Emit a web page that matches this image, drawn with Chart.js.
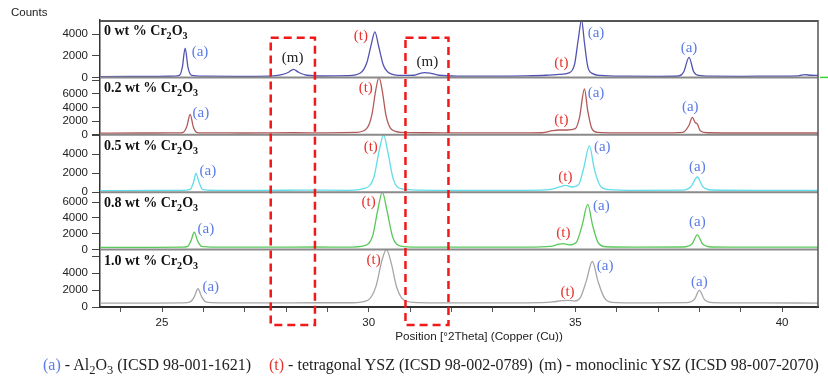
<!DOCTYPE html>
<html>
<head>
<meta charset="utf-8">
<script src="https://cdn.jsdelivr.net/npm/chart.js@4.4.1/dist/chart.umd.min.js"></script>
<style>
  html, body { margin: 0; padding: 0; background: #fff; }
  #wrap { position: relative; width: 828px; height: 383px; overflow: hidden; }
  #counts { position: absolute; left: 11px; top: 6px; font: 11.5px "Liberation Sans", Arial, sans-serif; color: #222; }
  #xtitle { position: absolute; left: 329px; width: 300px; top: 329px; text-align: center;
            font: 11.7px "Liberation Sans", Arial, sans-serif; color: #222; }
  .leg { position: absolute; top: 356px; font: 16px/18px "Liberation Serif", "Times New Roman", serif; color: #222; white-space: nowrap; }
  .leg sub { font-size: 12.5px; vertical-align: -4px; line-height: 0; }
  .ca { color: #5b7be8; }
  .ct { color: #e8322e; }
</style>
</head>
<body>
<div id="wrap">
  <canvas id="xrd" width="828" height="383"></canvas>
  <div id="counts">Counts</div>
  <div id="xtitle">Position [°2Theta] (Copper (Cu))</div>
  <span class="leg" style="left:43px"><span class="ca">(a)</span> - Al<sub>2</sub>O<sub>3</sub> (ICSD 98-001-1621)</span>
  <span class="leg" style="left:269px"><span class="ct">(t)</span> - tetragonal YSZ (ICSD 98-002-0789)</span>
  <span class="leg" style="left:539px">(m) - monoclinic YSZ (ICSD 98-007-2070)</span>
</div>
<script>
// x range of the scan, 2theta
const xMin = 23.5;
const xMax = 40.87;
const xTickLabels = [25, 30, 35, 40];

// one panel per Cr2O3 content
const panelNames = ['0', '0.2', '0.5', '0.8', '1.0'];
const panelMax = [5300, 8400, 6050, 7250, 6790];
const panelTicks = [
    [0, 2000, 4000],
    [0, 2000, 4000, 6000, 8000],
    [0, 2000, 4000, 6000],
    [0, 2000, 4000, 6000],
    [0, 2000, 4000, 6000]
];
const panelTickLabels = [
    [0, 2000, 4000],
    [0, 2000, 4000, 6000],
    [0, 2000, 4000],
    [0, 2000, 4000, 6000],
    [0, 2000, 4000]
];
const lineColors = ['#5252b2', '#b25a5a', '#5fdde8', '#5ac85a', '#a6a6a6'];

// [2theta, counts]
const scan0 = [
    [23.5, 80], [24.2, 90], [24.9, 100], [25.3, 110], [25.42, 180], [25.49, 900], [25.56, 2700],
    [25.63, 900], [25.72, 180], [26.0, 110], [26.8, 100], [27.6, 120], [27.9, 250], [28.05, 450],
    [28.18, 750], [28.3, 480], [28.5, 200], [28.9, 130], [29.5, 160], [29.8, 400], [29.95, 1300],
    [30.06, 3000], [30.15, 4200], [30.24, 2900], [30.35, 1200], [30.5, 400], [30.8, 180], [31.1, 200],
    [31.25, 380], [31.35, 450], [31.5, 380], [31.7, 200], [32.2, 120], [33.0, 110], [33.8, 140],
    [34.3, 200], [34.6, 280], [34.85, 420], [34.98, 1200], [35.07, 3500], [35.15, 5300], [35.22, 3200],
    [35.3, 1000], [35.42, 350], [35.6, 180], [36.2, 110], [37.0, 100], [37.5, 130], [37.62, 500],
    [37.75, 1850], [37.86, 550], [37.98, 180], [38.3, 110], [39.0, 100], [39.8, 120], [40.4, 150],
    [40.55, 250], [40.7, 200], [40.87, 180]
];
const scan1 = [
    [23.5, 250], [24.5, 260], [25.2, 270], [25.5, 320], [25.6, 1200], [25.68, 3000], [25.76, 1100],
    [25.85, 330], [26.2, 280], [27.0, 260], [28.2, 300], [29.0, 280], [29.7, 350], [29.95, 900],
    [30.08, 3000], [30.17, 6500], [30.25, 8400], [30.33, 6400], [30.42, 2800], [30.55, 800], [30.8, 350],
    [31.4, 300], [32.5, 270], [33.5, 270], [34.2, 300], [34.45, 600], [34.6, 700], [34.8, 700],
    [35.0, 900], [35.1, 2500], [35.22, 6700], [35.3, 3500], [35.4, 900], [35.55, 350], [36.0, 280],
    [37.0, 270], [37.6, 350], [37.75, 1400], [37.83, 2540], [37.9, 1800], [37.95, 1600], [38.02, 600],
    [38.2, 300], [39.5, 260], [40.87, 260]
];
const scan2 = [
    [23.5, 170], [24.8, 180], [25.5, 190], [25.68, 300], [25.76, 1000], [25.82, 1970], [25.9, 1000],
    [25.98, 300], [26.3, 200], [27.5, 190], [28.4, 220], [29.5, 200], [29.9, 400], [30.12, 1500],
    [30.26, 4500], [30.36, 6050], [30.46, 4300], [30.6, 1300], [30.8, 350], [31.2, 220], [32.5, 190],
    [33.8, 200], [34.4, 300], [34.62, 550], [34.76, 720], [34.92, 550], [35.08, 800], [35.2, 2500],
    [35.34, 4890], [35.46, 2400], [35.6, 700], [35.8, 280], [36.5, 200], [37.6, 220], [37.8, 600],
    [37.95, 1600], [38.08, 600], [38.3, 230], [39.5, 190], [40.87, 180]
];
const scan3 = [
    [23.5, 280], [24.8, 290], [25.5, 300], [25.62, 400], [25.7, 1100], [25.78, 2190], [25.86, 1100],
    [25.96, 400], [26.3, 310], [27.5, 300], [28.7, 330], [29.5, 310], [29.9, 500], [30.1, 1800],
    [30.22, 5000], [30.33, 7250], [30.44, 5000], [30.58, 1600], [30.78, 450], [31.2, 320], [32.5, 300],
    [33.8, 310], [34.4, 400], [34.58, 650], [34.7, 760], [34.85, 600], [35.02, 900], [35.16, 3000],
    [35.3, 5700], [35.42, 3000], [35.56, 800], [35.75, 360], [36.5, 310], [37.6, 330], [37.82, 700],
    [37.95, 1860], [38.08, 700], [38.3, 330], [39.5, 300], [40.87, 300]
];
const scan4 = [
    [23.5, 450], [24.8, 460], [25.5, 480], [25.68, 600], [25.78, 1200], [25.87, 2160], [25.96, 1200],
    [26.06, 600], [26.4, 490], [27.5, 480], [28.8, 500], [29.6, 500], [29.98, 800], [30.18, 2500],
    [30.32, 5500], [30.43, 6790], [30.54, 5300], [30.68, 2300], [30.86, 800], [31.2, 520], [32.5, 480],
    [33.8, 490], [34.45, 600], [34.68, 760], [34.83, 790], [34.98, 700], [35.12, 1100], [35.26, 3000],
    [35.41, 5380], [35.55, 3000], [35.7, 1100], [35.88, 550], [36.6, 490], [37.7, 510], [37.88, 900],
    [38.0, 1960], [38.12, 900], [38.32, 520], [39.5, 480], [40.87, 470]
];
const scans = [scan0, scan1, scan2, scan3, scan4];

// phase marks: [panel, 2theta, counts, phase]
const peakLabels = [
    [0, 25.92, 2330, 'a'], [0, 28.16, 1770, 'm'], [0, 29.81, 3810, 't'], [0, 31.42, 1400, 'm'],
    [0, 34.66, 1300, 't'], [0, 35.5, 4090, 'a'], [0, 37.75, 2700, 'a'],
    [1, 25.94, 3140, 'a'], [1, 29.93, 6860, 't'], [1, 34.66, 2140, 't'], [1, 35.5, 6140, 'a'], [1, 37.78, 4000, 'a'],
    [2, 26.11, 2210, 'a'], [2, 30.05, 4740, 't'], [2, 34.76, 1580, 't'], [2, 35.65, 4740, 'a'], [2, 37.95, 2630, 'a'],
    [3, 26.06, 2580, 'a'], [3, 30.0, 6060, 't'], [3, 34.71, 2060, 't'], [3, 35.63, 5550, 'a'], [3, 37.95, 3480, 'a'],
    [4, 26.18, 2350, 'a'], [4, 30.12, 5530, 't'], [4, 34.81, 1760, 't'], [4, 35.72, 4820, 'a'], [4, 38.0, 2940, 'a']
];
const phaseColors = { a: '#5b7be8', t: '#e8322e', m: '#222222' };

// monoclinic regions marked with dashed boxes
const boxRanges = [[27.63, 28.70], [30.89, 31.93]];
const boxTopCounts = 3650;

const font = '"Liberation Sans", Arial, sans-serif';
const serif = '"Liberation Serif", "Times New Roman", serif';

const scales = {
    x: {
        type: 'linear',
        min: xMin,
        max: xMax,
        afterFit: s => { s.height = 76; },
        ticks: {
            stepSize: 1,
            includeBounds: false,
            autoSkip: false,
            maxRotation: 0,
            padding: 4,
            color: '#222',
            font: { family: font, size: 11.5 },
            callback: v => xTickLabels.includes(v) ? String(v) : ''
        },
        grid: { drawOnChartArea: false, tickLength: 5, color: '#555' },
        border: { display: true, color: '#333', width: 2 }
    }
};
panelNames.forEach((n, i) => {
    scales['y' + i] = {
        type: 'linear',
        position: 'left',
        stack: 'panels',
        stackWeight: 1,
        weight: panelNames.length - i,
        min: 0,
        max: panelMax[i],
        afterFit: s => { s.width = 100; },
        afterBuildTicks: s => { s.ticks = panelTicks[i].map(v => ({ value: v })); },
        ticks: {
            autoSkip: false,
            padding: 4,
            color: '#222',
            font: { family: font, size: 11.5 },
            callback: v => panelTickLabels[i].includes(v) ? String(v) : ''
        },
        grid: { drawOnChartArea: false, tickLength: 8, color: '#444' },
        border: { display: true, color: '#333', width: 1.5 }
    };
});

function drawSubText(ctx, x, y, parts, size) {
    parts.forEach(([txt, sub]) => {
        ctx.font = 'bold ' + (sub ? size * 0.72 : size) + 'px ' + serif;
        ctx.fillText(txt, x, sub ? y + 4 : y);
        x += ctx.measureText(txt).width;
    });
}

const panelPlugin = {
    id: 'panels',
    afterDatasetsDraw(chart) {
        const ctx = chart.ctx;
        const area = chart.chartArea;
        const xs = chart.scales.x;
        ctx.save();

        // separators and frame
        ctx.strokeStyle = '#8a8a8a';
        ctx.lineWidth = 2;
        panelNames.forEach((n, i) => {
            const s = chart.scales['y' + i];
            if (i < panelNames.length - 1) {
                ctx.beginPath();
                ctx.moveTo(area.left, s.bottom);
                ctx.lineTo(area.right, s.bottom);
                ctx.stroke();
            }
        });
        ctx.strokeStyle = '#555';
        ctx.beginPath();
        ctx.moveTo(area.left, area.top + 1);
        ctx.lineTo(area.right, area.top + 1);
        ctx.stroke();
        ctx.lineWidth = 1.5;
        ctx.beginPath();
        ctx.moveTo(area.right, area.top);
        ctx.lineTo(area.right, area.bottom);
        ctx.stroke();

        // green marker at the right of the first panel
        ctx.strokeStyle = '#3cd03c';
        ctx.lineWidth = 1.5;
        const y0 = chart.scales.y0.bottom;
        ctx.beginPath();
        ctx.moveTo(area.right + 2, y0);
        ctx.lineTo(area.right + 10, y0);
        ctx.stroke();

        // panel titles
        ctx.fillStyle = '#111';
        ctx.textBaseline = 'alphabetic';
        ctx.textAlign = 'left';
        panelNames.forEach((n, i) => {
            const s = chart.scales['y' + i];
            drawSubText(ctx, area.left + 4, s.top + 15,
                [[n + ' wt % Cr', false], ['2', true], ['O', false], ['3', true]], 14);
        });

        // phase marks
        ctx.font = '15px ' + serif;
        ctx.textAlign = 'center';
        ctx.textBaseline = 'middle';
        peakLabels.forEach(([p, x, c, ph]) => {
            ctx.fillStyle = phaseColors[ph];
            ctx.fillText('(' + ph + ')', xs.getPixelForValue(x), chart.scales['y' + p].getPixelForValue(c));
        });

        // dashed boxes
        ctx.strokeStyle = '#f01818';
        ctx.lineWidth = 2.5;
        ctx.setLineDash([8, 5]);
        const top = chart.scales.y0.getPixelForValue(boxTopCounts);
        const bottom = area.bottom + 18;
        boxRanges.forEach(([a, b]) => {
            const l = xs.getPixelForValue(a);
            const r = xs.getPixelForValue(b);
            ctx.strokeRect(l, top, r - l, bottom - top);
        });
        ctx.restore();
    }
};

new Chart(document.getElementById('xrd'), {
    type: 'line',
    data: {
        datasets: scans.map((pts, i) => ({
            label: panelNames[i] + ' wt % Cr2O3',
            data: pts.map(([x, y]) => ({ x, y })),
            yAxisID: 'y' + i,
            borderColor: lineColors[i],
            borderWidth: 1.3,
            pointRadius: 0,
            fill: false,
            cubicInterpolationMode: 'monotone'
        }))
    },
    options: {
        responsive: false,
        animation: false,
        devicePixelRatio: 1,
        layout: { padding: { top: 20, right: 10, left: 0, bottom: 0 } },
        plugins: { legend: { display: false }, tooltip: { enabled: false } },
        scales: scales
    },
    plugins: [panelPlugin]
});
</script>
</body>
</html>
